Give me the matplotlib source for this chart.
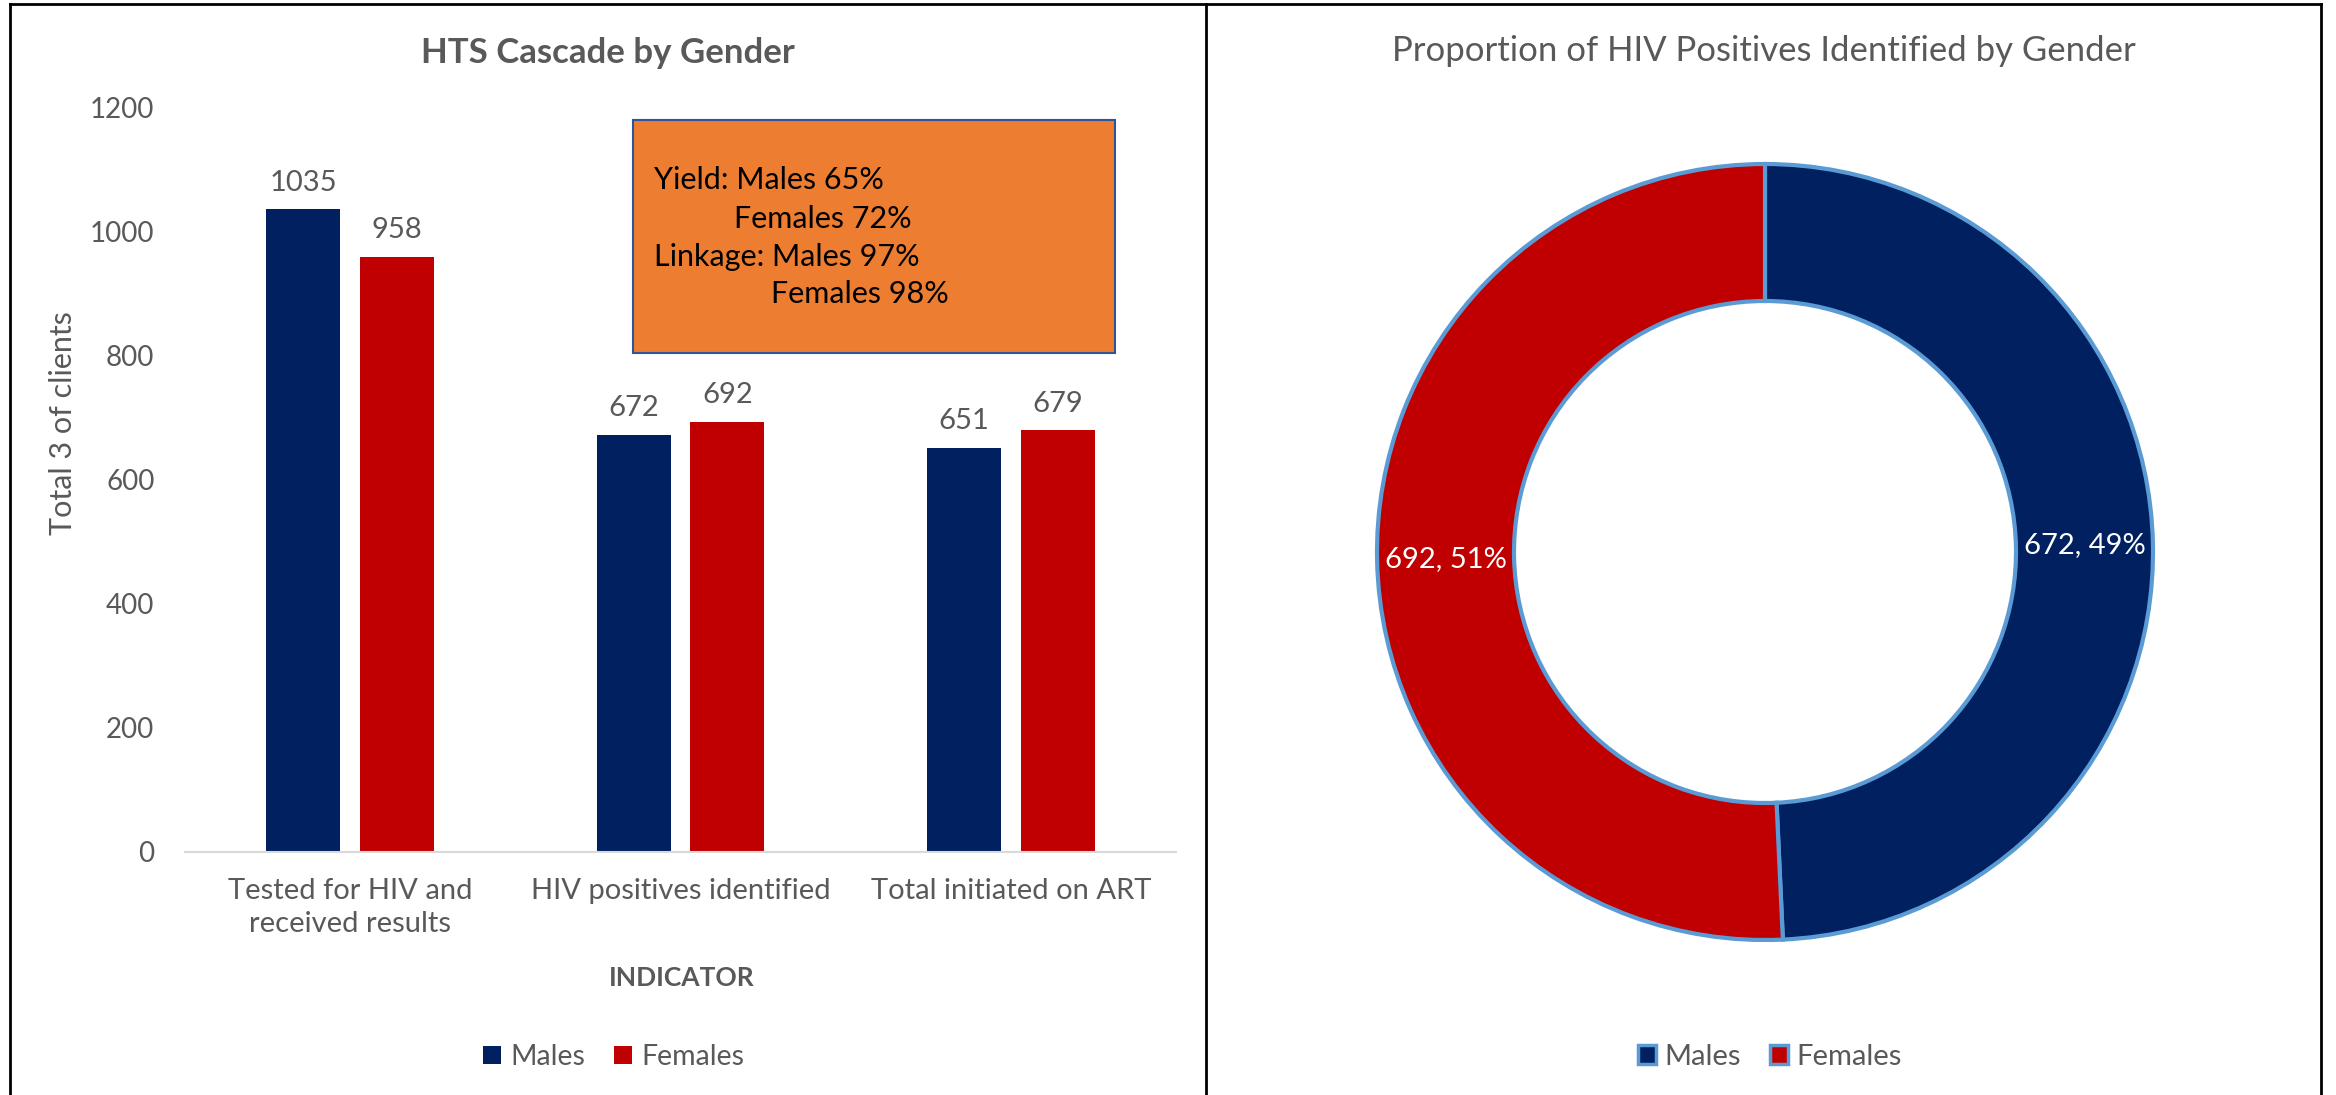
import matplotlib
matplotlib.use("Agg")
import matplotlib.pyplot as plt
from matplotlib.patches import Patch, Rectangle
from matplotlib.lines import Line2D
import numpy as np

# data
categories = ["Tested for HIV and\nreceived results", "HIV positives identified", "Total initiated on ART"]
males = [1035, 672, 651]
females = [958, 692, 679]
series_names = ["Males", "Females"]
pie_values = [672, 692]
box_lines = ["Yield: Males 65%", "Females 72%", "Linkage: Males 97%", "Females 98%"]

NAVY = "#002060"
RED = "#c00000"
GREY = "#595959"
ORANGE = "#ed7d31"
EDGE = "#5b9bd5"

W, H = 2336, 1095
plt.rcParams["font.family"] = ["Lato", "DejaVu Sans"]
fig = plt.figure(figsize=(W / 100, H / 100), dpi=100)


def fx(x):
    return x / W


def fy(y):
    # y measured from the top in pixels
    return 1 - y / H


# ---------- left: bar chart ----------
ax = fig.add_axes([fx(185), fy(852), fx(1176 - 185), (852 - 107) / H])
x = np.arange(len(categories))
bw = 0.224
off = 0.142
b1 = ax.bar(x - off, males, bw, color=NAVY, label=series_names[0])
b2 = ax.bar(x + off, females, bw, color=RED, label=series_names[1])
ax.bar_label(b1, padding=10, fontsize=21, color=GREY)
ax.bar_label(b2, padding=10, fontsize=21, color=GREY)
ax.set_xlim(-0.5, len(categories) - 0.5)
ax.set_ylim(0, 1200)
ax.set_yticks(range(0, 1201, 200))
ax.set_xticks(x)
ax.set_xticklabels(categories, linespacing=1.3)
ax.tick_params(axis="y", length=0, pad=22, labelsize=20, labelcolor=GREY)
ax.tick_params(axis="x", length=0, pad=19, labelsize=21, labelcolor=GREY)
for s in ["top", "right", "left"]:
    ax.spines[s].set_visible(False)
ax.spines["bottom"].set_color("#d9d9d9")
ax.spines["bottom"].set_linewidth(1.5)

fig.text(fx(608), fy(53), "HTS Cascade by Gender", ha="center", va="center",
         fontsize=25, fontweight="bold", color=GREY)
fig.text(fx(63), fy(423), "Total 3 of clients", ha="center", va="center",
         rotation=90, fontsize=22, color=GREY)
fig.text(fx(682), fy(978), "INDICATOR", ha="center", va="center",
         fontsize=19, fontweight="bold", color=GREY)

handles = [Patch(facecolor=NAVY, label=series_names[0]),
           Patch(facecolor=RED, label=series_names[1])]
fig.legend(handles=handles, loc="center", bbox_to_anchor=(fx(614), fy(1057)),
           ncol=2, frameon=False, fontsize=20.5, labelcolor=GREY,
           handlelength=0.62, handleheight=0.62, handletextpad=0.35,
           columnspacing=1.0)

# annotation box
fig.add_artist(Rectangle((fx(633), fy(353)), fx(1115 - 633), (353 - 120) / H,
                         facecolor=ORANGE, edgecolor="#2f5597", linewidth=1.5,
                         transform=fig.transFigure))
box_pos = [(654, 180), (734, 219), (654, 257), (771, 294)]
for (bx, by), t in zip(box_pos, box_lines):
    fig.text(fx(bx), fy(by), t, ha="left", va="center", fontsize=22, color="black")

# ---------- right: doughnut ----------
R = 388
ring = 137
cx, cy = 1765, 552
ax2 = fig.add_axes([fx(cx - 400), fy(cy + 400), 800 / W, 800 / H])
ax2.pie(pie_values, colors=[NAVY, RED], startangle=90, counterclock=False,
        radius=R, wedgeprops=dict(width=ring, edgecolor=EDGE, linewidth=3))
ax2.set_xlim(-400, 400)
ax2.set_ylim(-400, 400)
ax2.set_aspect("equal")
ax2.axis("off")

total = sum(pie_values)
start = 90.0
for v in pie_values:
    ext = v / total * 360
    mid = np.deg2rad(start - ext / 2)
    rr = R - ring / 2
    ax2.text(rr * np.cos(mid), rr * np.sin(mid), f"{v}, {v / total:.0%}",
             ha="center", va="center", fontsize=21, color="white")
    start -= ext

fig.text(fx(1764), fy(51), "Proportion of HIV Positives Identified by Gender",
         ha="center", va="center", fontsize=25, color=GREY)

handles2 = [Patch(facecolor=NAVY, edgecolor=EDGE, linewidth=2.5, label=series_names[0]),
            Patch(facecolor=RED, edgecolor=EDGE, linewidth=2.5, label=series_names[1])]
fig.legend(handles=handles2, loc="center", bbox_to_anchor=(fx(1770), fy(1057)),
           ncol=2, frameon=False, fontsize=21, labelcolor=GREY,
           handlelength=0.6, handleheight=0.6, handletextpad=0.3,
           columnspacing=1.0)

# panel borders
for xs, ys in [([10, 2321], [4, 4]), ([10, 10], [4, 1095]),
               ([1206, 1206], [4, 1095]), ([2321, 2321], [4, 1095])]:
    fig.add_artist(Line2D([fx(v) for v in xs], [fy(v) for v in ys],
                          color="black", linewidth=2, transform=fig.transFigure))

fig.savefig("out.png", dpi=100)
